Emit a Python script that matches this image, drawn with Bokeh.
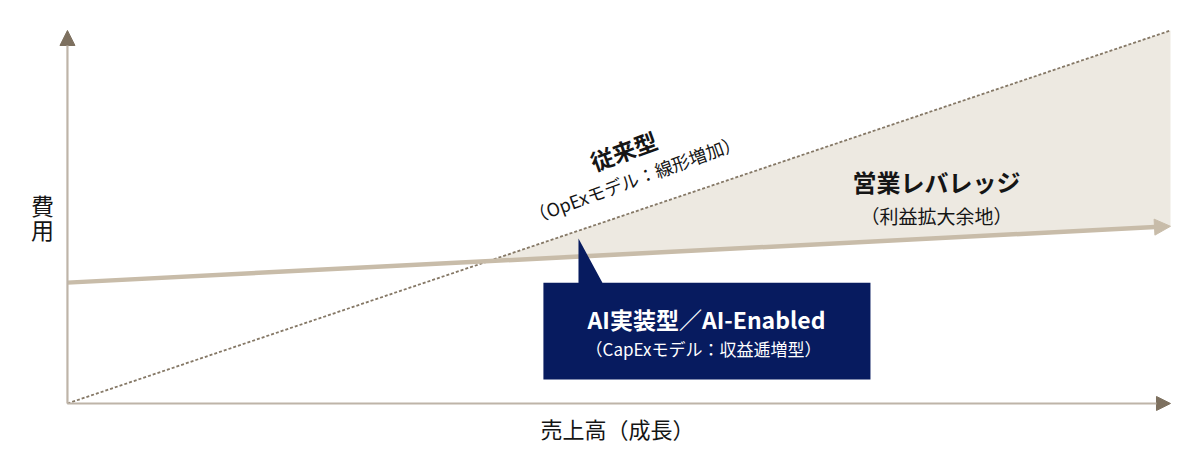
import numpy as np
from bokeh.plotting import figure
from bokeh.models import Arrow, NormalHead, Label, Range1d
from bokeh.embed import file_html
from bokeh.resources import INLINE

# Data (relative units: sales 0-100, cost 0-100)
sales = [0, 100]
cost_opex = [0, 100]          # 従来型: linear increase
cost_ai = [32.4, 47.5]        # AI実装型: flat-ish growth

# callout box (data units)
box_x = [43.15, 46.33, 46.33, 48.5, 72.8, 72.8, 43.15]
box_y = [32.4, 32.4, 44.2, 32.4, 32.4, 6.4, 6.4]

JP = "Noto Sans CJK JP"
AXIS_LINE = "#beb4a8"
AXIS_HEAD = "#7d705f"
TAN = "#c8bca9"
SHADE = "#ede9e1"
NAVY = "#071b5f"

p = figure(width=1184, height=454, output_backend="svg", toolbar_location=None,
           x_axis_type=None, y_axis_type=None, min_border=0,
           x_range=Range1d(-6.07, 101.27), y_range=Range1d(-13.68, 108.04))
p.outline_line_color = None
p.grid.visible = False

# Shaded gap between the two lines (right of the crossing)
s_op = (cost_opex[1] - cost_opex[0]) / (sales[1] - sales[0])
s_ai = (cost_ai[1] - cost_ai[0]) / (sales[1] - sales[0])
x_cross = (cost_ai[0] - cost_opex[0]) / (s_op - s_ai)
y_cross = cost_opex[0] + s_op * x_cross
p.patch([x_cross, sales[1], sales[1]], [y_cross, cost_opex[1], cost_ai[1]],
        fill_color=SHADE, line_color=None)

# 従来型 dotted line
p.line(sales, cost_opex, line_color="#857866", line_width=1.8, line_dash="3 2")

# AI line (shaft up to the arrow head)
head_len = 1.4
ai_end_y = cost_ai[0] + s_ai * (sales[1] - head_len)
p.line([sales[0], sales[1] - head_len], [cost_ai[0], ai_end_y], line_color=TAN, line_width=4.5)

# callout box
p.patch(box_x, box_y, fill_color=NAVY, line_color=None)

# axes with arrow heads
p.add_layout(Arrow(end=NormalHead(size=15, fill_color=AXIS_HEAD, line_color=AXIS_HEAD),
                   x_start=0, y_start=0, x_end=0, y_end=100,
                   line_color=AXIS_LINE, line_width=2.2))
p.add_layout(Arrow(end=NormalHead(size=14, fill_color=AXIS_HEAD, line_color=AXIS_HEAD),
                   x_start=0, y_start=0, x_end=100, y_end=0,
                   line_color=AXIS_LINE, line_width=2.2))
p.add_layout(Arrow(end=NormalHead(size=16, fill_color=TAN, line_color=TAN),
                   x_start=sales[0], y_start=cost_ai[0], x_end=sales[1], y_end=cost_ai[1],
                   line_alpha=0))

def lab(text, sx, sy, size, bold=False, color="#151515", angle=0):
    p.add_layout(Label(x=sx, y=sy, x_units="screen", y_units="screen", text=text,
                       text_font=JP, text_font_size=f"{size}px",
                       text_font_style="bold" if bold else "normal",
                       text_color=color, text_align="center", text_baseline="middle",
                       angle=angle, angle_units="deg"))

lab("従来型", 623, 304, 23, True, angle=20)
lab("（OpExモデル：線形増加）", 634, 276, 18, angle=20)
lab("営業レバレッジ", 936, 273, 24, True)
lab("（利益拡大余地）", 936, 239, 19)
lab("AI実装型／AI-Enabled", 706, 136, 23, True, color="white")
lab("（CapExモデル：収益逓増型）", 703, 106, 17, color="white")
lab("費", 42, 250, 23)
lab("用", 42, 226, 23)
lab("売上高（成長）", 617, 27, 22)

open("out.html", "w").write(file_html(p, INLINE))
